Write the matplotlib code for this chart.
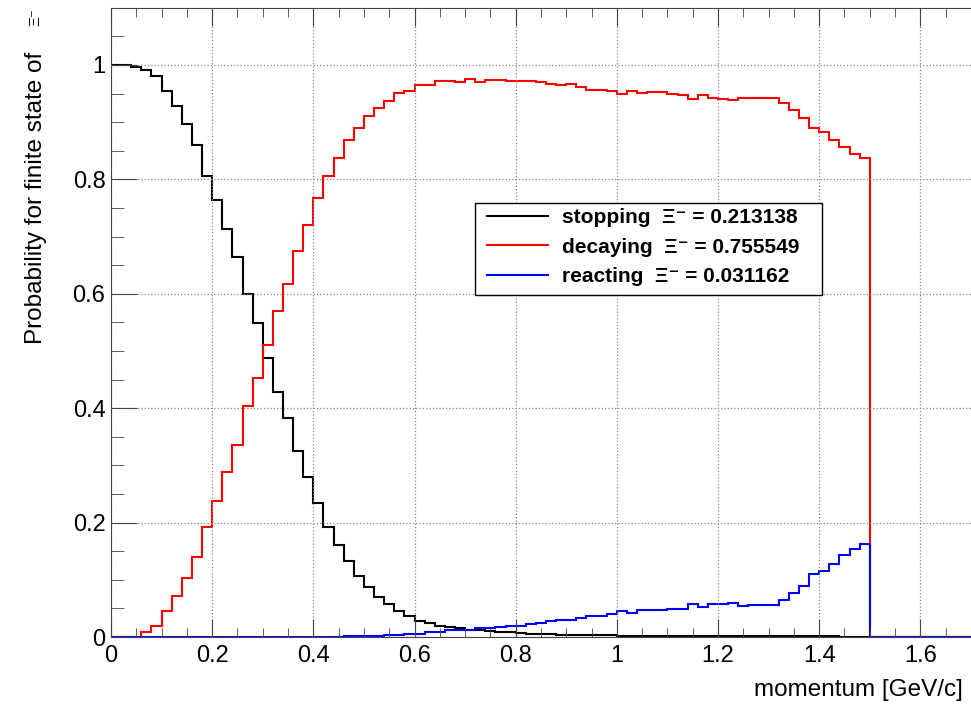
import numpy as np
import matplotlib
matplotlib.use("Agg")
import matplotlib.pyplot as plt
from matplotlib.lines import Line2D
from matplotlib.patches import Rectangle
from matplotlib.ticker import MultipleLocator, FuncFormatter

plt.rcParams['font.family'] = ['Liberation Sans', 'DejaVu Sans']

# histogram: 0.02 GeV/c bins from 0 to 1.5, empty above
bin_width = 0.02
n_filled = 75
n_empty = 15

stopping = [1.000, 1.000, 0.997, 0.991, 0.980, 0.955, 0.928, 0.896, 0.860, 0.806,
            0.764, 0.713, 0.665, 0.599, 0.549, 0.488, 0.429, 0.382, 0.326, 0.279,
            0.234, 0.193, 0.160, 0.132, 0.107, 0.087, 0.070, 0.058, 0.046, 0.037,
            0.028, 0.024, 0.019, 0.017, 0.016, 0.013, 0.012, 0.010, 0.009, 0.008,
            0.007, 0.006, 0.005, 0.005, 0.004, 0.004, 0.003, 0.003, 0.003, 0.003,
            0.002, 0.002, 0.002, 0.002, 0.002, 0.001, 0.002, 0.001, 0.001, 0.001,
            0.001, 0.001, 0.001, 0.001, 0.001, 0.001, 0.001, 0.001, 0.001, 0.001,
            0.001, 0.001, 0.0005, 0.0005, 0.0005]

decaying = [0.0, 0.0, 0.0, 0.009, 0.020, 0.046, 0.072, 0.104, 0.140, 0.193,
            0.237, 0.288, 0.336, 0.403, 0.452, 0.510, 0.570, 0.617, 0.674, 0.720,
            0.767, 0.806, 0.837, 0.869, 0.890, 0.911, 0.924, 0.937, 0.951, 0.955,
            0.965, 0.965, 0.972, 0.972, 0.970, 0.976, 0.970, 0.974, 0.974, 0.972,
            0.972, 0.972, 0.970, 0.967, 0.965, 0.967, 0.962, 0.957, 0.957, 0.955,
            0.950, 0.955, 0.951, 0.952, 0.952, 0.950, 0.948, 0.941, 0.947, 0.942,
            0.941, 0.939, 0.942, 0.942, 0.943, 0.942, 0.933, 0.921, 0.907, 0.889,
            0.882, 0.869, 0.856, 0.844, 0.837]

reacting = [0.0] * 22 + [
            0.0005, 0.001, 0.001, 0.002, 0.002, 0.003, 0.004, 0.005,
            0.006, 0.008, 0.009, 0.012, 0.012, 0.013, 0.015, 0.016, 0.017, 0.019,
            0.020, 0.023, 0.025, 0.028, 0.030, 0.030, 0.033, 0.037, 0.037, 0.041,
            0.045, 0.042, 0.047, 0.047, 0.047, 0.049, 0.049, 0.057, 0.052, 0.057,
            0.057, 0.060, 0.055, 0.056, 0.056, 0.056, 0.065, 0.077, 0.089, 0.110,
            0.116, 0.128, 0.143, 0.154, 0.163]

labels = ['stopping', 'decaying', 'reacting']
totals = ['0.213138', '0.755549', '0.031162']
colors = ['black', 'red', 'blue']

edges = np.arange(n_filled + n_empty + 1) * bin_width

fig = plt.figure(figsize=(9.71, 7.07), dpi=100)
# the frame runs past the right edge of the picture, as in the screenshot
ax = fig.add_axes([0.1143, 0.099, 0.9117, 0.890])

for vals, c in zip([stopping, decaying, reacting], colors):
    h = np.array(vals + [0.0] * n_empty)
    ax.stairs(h, edges, baseline=None, color=c, lw=1.5)

ax.set_xlim(0, 1.75)
ax.set_ylim(0, 1.1)

ax.xaxis.set_major_locator(MultipleLocator(0.2))
ax.xaxis.set_minor_locator(MultipleLocator(0.05))
ax.yaxis.set_major_locator(MultipleLocator(0.2))
ax.yaxis.set_minor_locator(MultipleLocator(0.05))
fmt = FuncFormatter(lambda v, p: f'{v:g}')
ax.xaxis.set_major_formatter(fmt)
ax.yaxis.set_major_formatter(fmt)

ax.grid(True, which='major', color='#888888', linestyle=':', linewidth=0.9)
ax.tick_params(axis='both', which='both', direction='in', top=True, right=True,
               color='#444444', labelsize=17)
ax.tick_params(axis='x', which='major', length=13, pad=6)
ax.tick_params(axis='x', which='minor', length=6.5)
ax.tick_params(axis='y', which='major', length=19, pad=4)
ax.tick_params(axis='y', which='minor', length=9)
for s in ax.spines.values():
    s.set_color('#444444')

# axis titles
fig.text(0.992, 1 - 690 / 707, 'momentum [GeV/c]', ha='right', va='center', fontsize=17.5)
ax.set_ylabel('Probability for finite state of', loc='top', fontsize=17.5)
ax.yaxis.set_label_coords(-0.072, 0.930)
fig.text(35 / 971, 1 - 8 / 707, 'Ξ⁻', rotation=90, ha='center', va='top', fontsize=11)

# legend, with a fixed box like ROOT's TLegend
fig.patches.append(Rectangle((475 / 971, 1 - 295 / 707), 347 / 971, 92 / 707,
                             transform=fig.transFigure, facecolor='white',
                             edgecolor='black', lw=1.0, zorder=5))
handles = [Line2D([], [], color=c, lw=1.5) for c in colors]
texts = [f'{l}  Ξ⁻ = {t}' for l, t in zip(labels, totals)]
leg = fig.legend(handles, texts, loc='upper left', bbox_to_anchor=(487 / 971, 1 - 208 / 707),
                 prop={'weight': 'bold', 'size': 15}, frameon=False,
                 handlelength=2.93, handletextpad=0.67,
                 labelspacing=0.51, borderpad=0, borderaxespad=0)
leg.set_zorder(6)

fig.savefig('out.png', dpi=100)
